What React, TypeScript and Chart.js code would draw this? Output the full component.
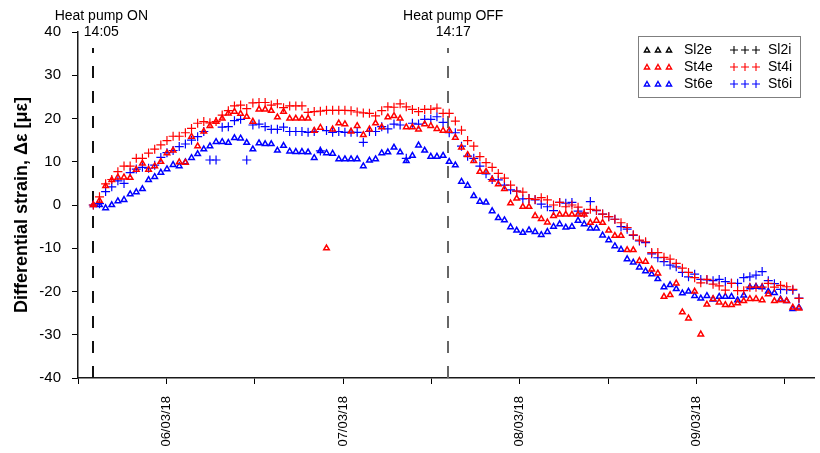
import React, { useEffect, useRef } from 'react';
import { Chart, registerables } from 'chart.js';

Chart.register(...registerables);

const FONT = "'Liberation Sans', Arial, Helvetica, sans-serif";

// x values are days counted from 05/03/18 00:00
const X_MIN = 0.5; // 05/03/18 12:00
const X_MAX = 4.6667; // 09/03/18 16:00
const DAY_TICKS = [1, 2, 3, 4];
const DAY_LABELS = ['06/03/18', '07/03/18', '08/03/18', '09/03/18'];
const Y_MIN = -40;
const Y_MAX = 40;
const Y_STEP = 10;

const HEAT_ON_DAY = 14 / 24 + 5 / 1440; // 05/03/18 14:05
const HEAT_OFF_DAY = 2 + 14 / 24 + 17 / 1440; // 07/03/18 14:17
const HEAT_ON_LABEL = ['Heat pump ON', '14:05'];
const HEAT_OFF_LABEL = ['Heat pump OFF', '14:17'];
const SAMPLE_INTERVAL_DAYS = 50 / 1440; // one reading every 50 min from heat pump ON

const Y_TITLE = 'Differential strain, \u0394\u03b5 [\u03bc\u03b5]';

// Series (micro-strain), one reading per sample
const SL2E: number[] = [];
const SL2I: number[] = [];

const ST4E = [
  0, 1.0, 4.4, 5.8, 6.4, 6.4, 6.3, 8.2, 9.6, 8.2,
  9.0, 10.0, 12.0, 12.6, 9.9, 9.8, 15.8, 13.6, 17.0, 18.3,
  19.3, 20.0, 21.2, 21.6, 21.1, 20.4, 19.3, 22.1, 22.1, 21.8,
  20.3, 21.6, 20, 20, 20, 20, 17.2, 17.9, -10, 17.5,
  18.9, 18.7, 17, 18.3, 16.2, 17.5, 18.9, 18, 20.3, 20.6,
  20, 18, 18, 17.5, 18.7, 18.3, 17.6, 17.2, 17.2, 15.6,
  13.3, 11.6, 10.2, 7.7, 7.7, 5.9, 4.8, 3.7, 0.4, 1.5,
  -0.4, -0.4, -2.5, -3.2, -4, -2.5, -2.2, -2.2, -2.2, -2.2,
  -2.2, -4.1, -3.6, -4.1, -5.9, -7.1, -7.1, -10.4, -10.4, -12.9,
  -13.1, -14.9, -15.8, -21.2, -20.8, -18.1, -24.8, -26.2, -20, -29.9,
  -23, -21.7, -22.5, -23.1, -23.1, -22.7, -22.2, -21.7, -21.7, -22,
  -20.6, -22.2, -22, -22.2, -23.7, -23.9,
];

const ST4I = [
  0, 1.9, 4.9, 5.9, 7.7, 9, 9, 10.8, 10.8, 12,
  12.9, 13.9, 14.9, 15.9, 15.9, 16.7, 17.7, 18.9, 19.3, 19,
  19.3, 20.8, 21.8, 22.9, 23.1, 22.3, 23.6, 23.7, 23.7, 23.1,
  23.4, 22.5, 22.9, 22.9, 22.9, 21.4, 21.6, 21.7, 21.9, 21.9,
  21.9, 21.9, 21.8, 21.5, 21.3, 21.2, 20.6, 21.8, 22.7, 22.6,
  23.4, 22.7, 22.1, 21.6, 22.1, 22.1, 22.4, 21.2, 21.2, 19.4,
  17.3, 14.9, 13.6, 11.2, 9.8, 8.7, 7.3, 6.2, 4.6, 3.2,
  3, 1.5, 1.3, 1.7, 1.2, 0, 0.6, -0.4, 0, -0.5,
  -1.9, -1, -1.2, -2.1, -2.7, -3.3, -4.1, -5.2, -6.9, -8.1,
  -8.5, -11, -11, -12.1, -12.5, -13.5, -14.6, -15.6, -16.8, -18,
  -17.2, -18.3, -18.7, -19.7, -18.1, -19.8, -19.8, -19, -19, -19,
  -18.1, -19, -18.6, -18.9, -19.5, -21.6,
];

const ST6E = [
  0, 0, -0.7, 0, 0.9, 1.2, 2.5, 3, 3.7, 5.8,
  6.5, 7.5, 8.3, 9.3, 9, 9.9, 10.9, 11.8, 12.9, 13.6,
  14.6, 14.6, 14.4, 15.5, 15.4, 14.4, 12.9, 14.3, 14.1, 14.1,
  12.6, 13.7, 12.4, 12.3, 12.3, 12.2, 10.9, 12.5, 12, 11.9,
  10.6, 10.6, 10.6, 10.6, 9, 10.3, 10.6, 12, 12.2, 13.3,
  12.2, 10.2, 11.4, 13.8, 12.6, 11.2, 11.2, 11.4, 10, 9.2,
  5.4, 4.5, 2.1, 0.8, 0.6, -1.4, -3, -3.5, -5.1, -5.9,
  -6.4, -5.8, -6.2, -6.9, -6.2, -5, -4.4, -5.2, -5, -3.6,
  -4.4, -5.4, -5.4, -7, -8.1, -9.5, -10.3, -12.5, -13.3, -14.4,
  -15.3, -16, -17.1, -19, -18.5, -19.4, -20.4, -20, -21, -21.6,
  -21, -21.8, -21.2, -21.2, -21.2, -22, -20.9, -19, -18.9, -19,
  -20, -20.3, -21.8, -22.2, -24, -23.7,
];

const ST6I = [
  0, 0.3, 3.1, 4.2, 5.6, 5, 7.5, 8.3, 8.7, 8.5,
  9.2, 11, 12.1, 12.6, 13.5, 14.1, 15, 15.8, 17, 10.4,
  10.4, 18, 18.1, 19.5, 19.8, 10.4, 18.5, 18.7, 18.1, 17.5,
  17.5, 18, 17, 17, 17, 16.8, 17, 12.5, 17.2, 16.8,
  17, 16.8, 16.8, 16.8, 14.5, 17, 17, 18.1, 17.6, 18.7,
  18.5, 10.8, 18.9, 18.7, 19.8, 19.8, 20.4, 19.1, 16.7, 16.7,
  13.6, 11.3, 10.8, 9, 7.2, 5.9, 5.8, 4.6, 3.5, 3.2,
  1.4, 1.5, 1.2, 0.2, -0.4, -1.3, 0.6, 0.4, 0.6, -1.4,
  -1.9, 0.8, -1.3, -2.1, -2.7, -3.3, -5, -5.6, -7, -8.3,
  -8.7, -11.3, -12.2, -13.1, -13.9, -14.3, -15.6, -16.6, -16, -17.2,
  -17.3, -17.5, -17.2, -17.7, -18.1, -18.1, -16.8, -16.6, -16.2, -15.4,
  -17.5, -18.2, -19.5, -19.6, -19.7, -21.5,
];

const BLACK = '#000000';
const RED = '#ff0000';
const BLUE = '#0000ff';

const LEGEND_ROWS = [
  { color: BLACK, ext: 'Sl2e', int: 'Sl2i' },
  { color: RED, ext: 'St4e', int: 'St4i' },
  { color: BLUE, ext: 'St6e', int: 'St6i' },
];

const sampleTimes = ST6E.map((_, i) => HEAT_ON_DAY + i * SAMPLE_INTERVAL_DAYS);
const toPoints = (vals: number[]) => vals.map((v, i) => ({ x: sampleTimes[i], y: v }));

function drawTriangle(ctx: CanvasRenderingContext2D, x: number, y: number, r: number) {
  ctx.beginPath();
  for (let k = 0; k < 3; k++) {
    const a = (k * 2 * Math.PI) / 3;
    const px = x + Math.sin(a) * r;
    const py = y - Math.cos(a) * r;
    if (k === 0) ctx.moveTo(px, py);
    else ctx.lineTo(px, py);
  }
  ctx.closePath();
  ctx.stroke();
}

function drawPlus(ctx: CanvasRenderingContext2D, x: number, y: number, r: number) {
  ctx.beginPath();
  ctx.moveTo(x - r, y);
  ctx.lineTo(x + r, y);
  ctx.moveTo(x, y - r);
  ctx.lineTo(x, y + r);
  ctx.stroke();
}

export default function App() {
  const ref = useRef<HTMLCanvasElement>(null);

  useEffect(() => {
    const canvas = ref.current;
    if (!canvas) return;

    const overlay = {
      id: 'overlay',
      beforeDatasetsDraw(chart: any) {
        const { ctx, chartArea, scales } = chart;
        const lines = [
          { t: HEAT_ON_DAY, color: '#111111' },
          { t: HEAT_OFF_DAY, color: '#666666' },
        ];
        ctx.save();
        ctx.lineWidth = 2;
        ctx.setLineDash([12, 13]);
        for (const l of lines) {
          const x = Math.round(scales.x.getPixelForValue(l.t));
          ctx.strokeStyle = l.color;
          ctx.beginPath();
          ctx.moveTo(x, chartArea.bottom);
          ctx.lineTo(x, 48);
          ctx.stroke();
        }
        ctx.restore();
      },
      afterDraw(chart: any) {
        const { ctx, scales } = chart;
        ctx.save();
        // annotations
        ctx.fillStyle = '#000';
        ctx.font = `14px ${FONT}`;
        ctx.textAlign = 'center';
        ctx.textBaseline = 'middle';
        const xOn = scales.x.getPixelForValue(HEAT_ON_DAY) + 8;
        const xOff = scales.x.getPixelForValue(HEAT_OFF_DAY) + 5;
        ctx.fillText(HEAT_ON_LABEL[0], xOn, 16);
        ctx.fillText(HEAT_ON_LABEL[1], xOn, 32);
        ctx.fillText(HEAT_OFF_LABEL[0], xOff, 16);
        ctx.fillText(HEAT_OFF_LABEL[1], xOff, 32);

        // y title
        ctx.save();
        ctx.translate(22, (chart.chartArea.top + chart.chartArea.bottom) / 2);
        ctx.rotate(-Math.PI / 2);
        ctx.font = `bold 18px ${FONT}`;
        ctx.fillText(Y_TITLE, 0, 0);
        ctx.restore();

        // legend
        ctx.lineWidth = 1;
        ctx.strokeStyle = '#7f7f7f';
        ctx.setLineDash([]);
        ctx.strokeRect(638.5, 36.5, 162, 61);
        ctx.font = `14px ${FONT}`;
        ctx.textAlign = 'left';
        LEGEND_ROWS.forEach((row, k) => {
          const y = 50 + k * 17;
          ctx.strokeStyle = row.color;
          ctx.lineWidth = 1.4;
          [647, 658, 669].forEach((x) => drawTriangle(ctx, x, y + 0.5, 3));
          ctx.lineWidth = 1.1;
          [734, 745, 756].forEach((x) => drawPlus(ctx, x, y, 4));
          ctx.fillStyle = '#000';
          ctx.fillText(row.ext, 684, y);
          ctx.fillText(row.int, 768, y);
        });
        ctx.restore();
      },
    };

    const triangleSet = (label: string, data: number[], color: string) => ({
      label,
      data: toPoints(data),
      pointStyle: 'triangle',
      pointRadius: 3.2,
      borderWidth: 1.5,
      borderColor: color,
      backgroundColor: 'rgba(0,0,0,0)',
      showLine: false,
    });
    const plusSet = (label: string, data: number[], color: string) => ({
      label,
      data: toPoints(data),
      pointStyle: 'cross',
      pointRadius: 4.5,
      borderWidth: 1.2,
      borderColor: color,
      backgroundColor: color,
      showLine: false,
    });

    const chart = new Chart(canvas, {
      type: 'scatter',
      data: {
        datasets: [
          plusSet('St4i', ST4I, RED),
          triangleSet('St4e', ST4E, RED),
          plusSet('Sl2i', SL2I, BLACK),
          triangleSet('Sl2e', SL2E, BLACK),
          plusSet('St6i', ST6I, BLUE),
          triangleSet('St6e', ST6E, BLUE),
        ],
      } as any,
      options: {
        animation: false,
        responsive: false,
        maintainAspectRatio: false,
        layout: { padding: { top: 32, right: 2, left: 0, bottom: 0 } },
        plugins: {
          legend: { display: false },
          tooltip: { enabled: false },
        },
        scales: {
          x: {
            type: 'linear',
            min: X_MIN,
            max: X_MAX,
            grid: { drawOnChartArea: false, drawTicks: true, tickLength: 6, color: '#000', lineWidth: 1 },
            border: { color: '#1a1a1a', width: 1.5 },
            ticks: {
              stepSize: 0.5,
              autoSkip: false,
              minRotation: 90,
              maxRotation: 90,
              padding: 12,
              color: '#000',
              font: { family: FONT, size: 13 },
              callback: (value: any) => {
                const v = Number(value);
                const k = DAY_TICKS.findIndex((d) => Math.abs(d - v) < 1e-6);
                return k >= 0 ? DAY_LABELS[k] : '';
              },
            },
            afterBuildTicks: (scale: any) => {
              scale.ticks = scale.ticks.filter(
                (t: any) => Math.abs(t.value * 2 - Math.round(t.value * 2)) < 1e-6
              );
            },
            afterFit: (scale: any) => {
              scale.height = 75;
            },
          },
          y: {
            type: 'linear',
            min: Y_MIN,
            max: Y_MAX,
            grid: { drawOnChartArea: false, drawTicks: true, tickLength: 6, color: '#000', lineWidth: 1 },
            border: { color: '#1a1a1a', width: 1.5 },
            ticks: {
              stepSize: Y_STEP,
              padding: 11,
              color: '#000',
              font: { family: FONT, size: 15 },
            },
            afterFit: (scale: any) => {
              scale.width = 78;
            },
          },
        },
      } as any,
      plugins: [overlay],
    });

    return () => chart.destroy();
  }, []);

  return (
    <div style={{ position: 'fixed', left: 0, top: 0, width: 820, height: 453, background: '#fff' }}>
      <canvas ref={ref} width={820} height={453} style={{ display: 'block', width: 820, height: 453 }} />
    </div>
  );
}
